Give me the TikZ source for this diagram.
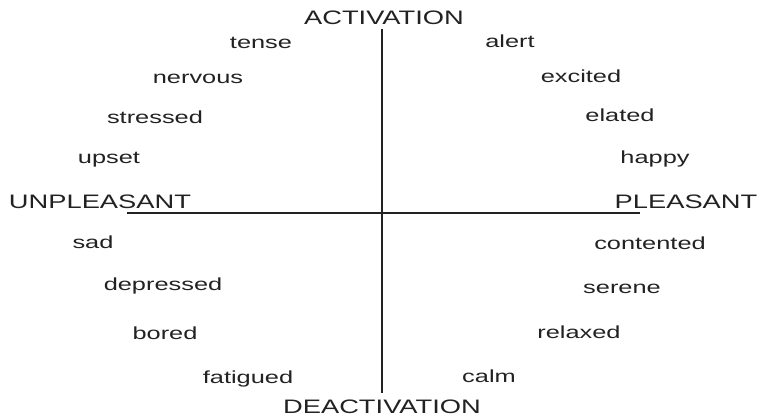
\documentclass[tikz,border=0pt]{standalone}
\usepackage{fontspec}
\newfontfamily\bigfont[FakeStretch=1.40]{Liberation Sans}
\newfontfamily\wordfont[FakeStretch=1.45]{Liberation Sans}
\definecolor{ink}{HTML}{222222}
\begin{document}
\begin{tikzpicture}[x=1pt,y=-1pt,
  axis/.style={draw=ink,line width=2pt},
  pole/.style={anchor=base,inner sep=0pt,text=ink,font=\bigfont\fontsize{19.5}{22}\selectfont},
  word/.style={anchor=base,inner sep=0pt,text=ink,font=\wordfont\fontsize{17.5}{20}\selectfont}]
\useasboundingbox (0,0) rectangle (761,418);
\fill[white] (0,0) rectangle (761,418);
% axes
\coordinate (vtop) at (382,29);
\coordinate (vbot) at (382,393);
\coordinate (hl) at (127,213);
\coordinate (hr) at (640,213);
\draw[axis] (vtop) -- (vbot);
\draw[axis] (hl) -- (hr);
% poles
\node[pole] (act) at (384,24) {ACTIVATION};
\node[pole] (deact) at (382,413) {DEACTIVATION};
\node[pole] (unpl) at (100,208) {UNPLEASANT};
\node[pole] (pl) at (686,208) {PLEASANT};
% upper left
\node[word] (tense) at (261,48) {tense};
\node[word] (nervous) at (198,83) {nervous};
\node[word] (stressed) at (155,123) {stressed};
\node[word] (upset) at (109,163) {upset};
% upper right
\node[word] (alert) at (510,47) {alert};
\node[word] (excited) at (581,82) {excited};
\node[word] (elated) at (620,121) {elated};
\node[word] (happy) at (655,163) {happy};
% lower left
\node[word] (sad) at (93,248) {sad};
\node[word] (depressed) at (163,290) {depressed};
\node[word] (bored) at (165,339) {bored};
\node[word] (fatigued) at (248,383) {fatigued};
% lower right
\node[word] (contented) at (650,249) {contented};
\node[word] (serene) at (622,293) {serene};
\node[word] (relaxed) at (579,338) {relaxed};
\node[word] (calm) at (489,382) {calm};
\end{tikzpicture}
\end{document}
